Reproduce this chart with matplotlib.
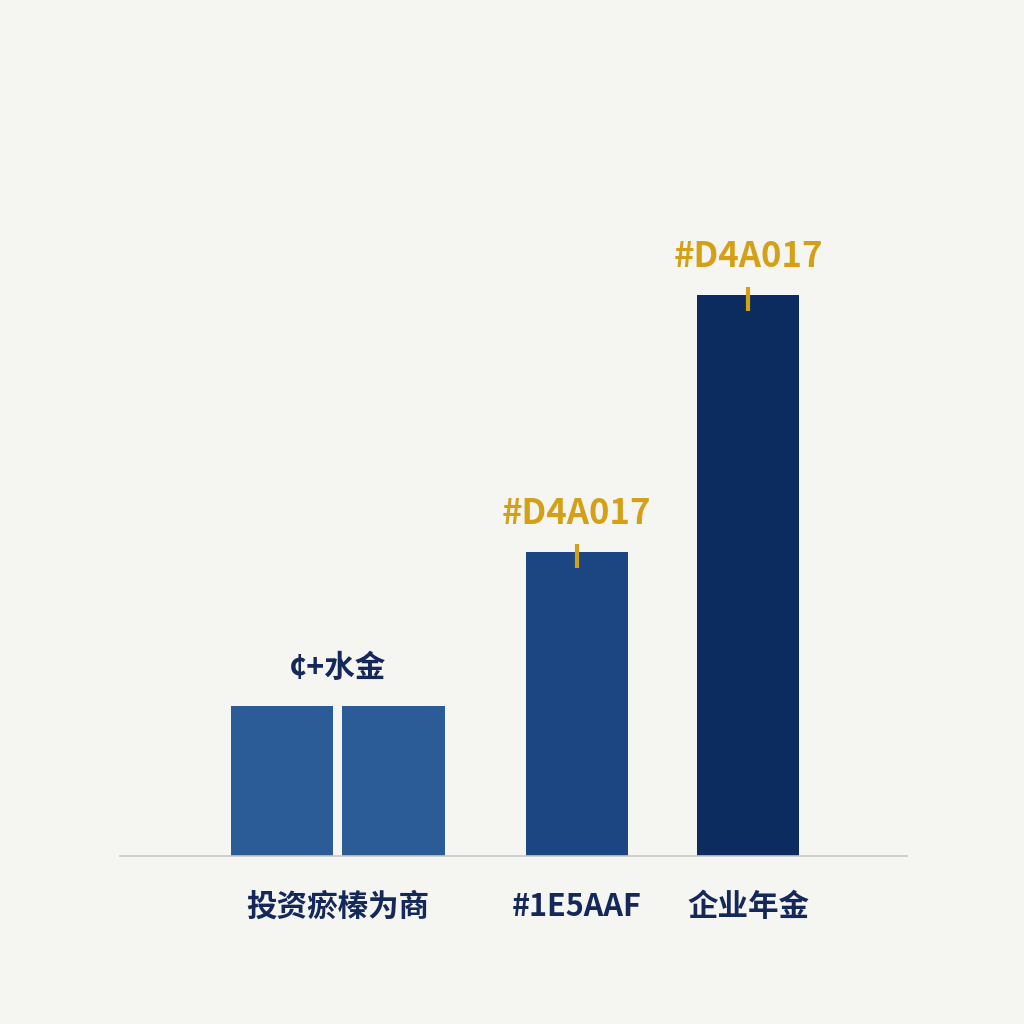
import numpy as np
import matplotlib
matplotlib.use('Agg')
import matplotlib.pyplot as plt

# data
categories = ['投资瘀榛为商', '#1E5AAF', '企业年金']
group_values = [2.67, 2.67]      # paired bars of first category
values = [5.42, 10.0]            # second and third category
top_labels = ['#D4A017', '#D4A017']
group_label = '¢+水金'

# layout
bg = '#f5f5f1'
navy_text = '#14295a'
gold = '#d4a017'
bar_colors = ['#2b5c98', '#1b4682', '#0c2b5f']
pos_group = [0.283, 0.933]
pos_single = [2.0, 3.0]
pos_cats = [0.608, 2.0, 3.0]
w = 0.595

plt.rcParams['font.family'] = ['Noto Sans CJK SC', 'DejaVu Sans']

fig = plt.figure(figsize=(10.24, 10.24), dpi=100, facecolor=bg)
ax = fig.add_axes([0.117, 0.164, 0.769, 0.738], facecolor=bg)

ax.bar(pos_group, group_values, width=w, color=bar_colors[0])
ax.bar(pos_single, values, width=w, color=bar_colors[1:])

# small gold ticks on top of the bars
for x, v in zip(pos_single, values):
    ax.plot([x, x], [v - 0.28, v + 0.15], color=gold, lw=3, solid_capstyle='butt')

for x, v, t in zip(pos_single, values, top_labels):
    ax.text(x, v + 0.38, t, ha='center', va='bottom', fontsize=25,
            fontweight='bold', color=gold)

ax.text(pos_cats[0], max(group_values) + 0.4, group_label, ha='center',
        va='bottom', fontsize=22, fontweight='bold', color=navy_text)

ax.set_xlim(-0.662, 3.927)
ax.set_ylim(0, 13.48)
ax.set_xticks(pos_cats)
ax.set_xticklabels(categories, fontsize=22, fontweight='bold', color=navy_text)
ax.tick_params(axis='x', length=0, pad=25)
ax.set_yticks([])
for s in ['top', 'right', 'left']:
    ax.spines[s].set_visible(False)
ax.spines['bottom'].set_color('#c8c8c8')
ax.spines['bottom'].set_linewidth(1.2)

fig.savefig('out.png', dpi=100, facecolor=bg)
